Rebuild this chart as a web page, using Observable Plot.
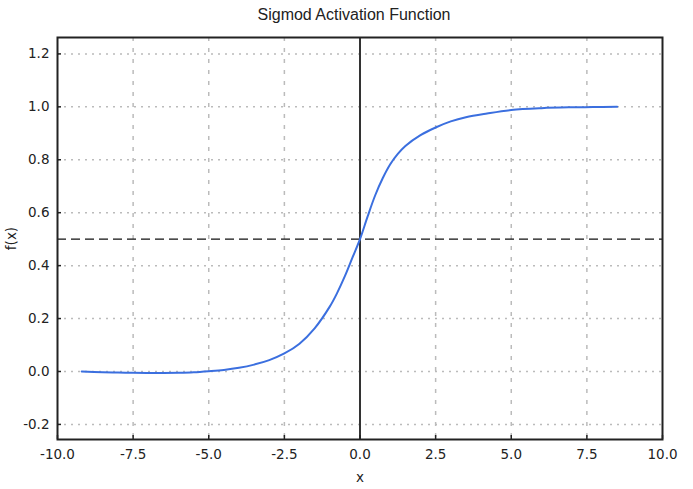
<!DOCTYPE html>
<html>
<head>
<meta charset="utf-8">
<script src="https://cdn.jsdelivr.net/npm/d3@7"></script>
<script src="https://cdn.jsdelivr.net/npm/@observablehq/plot@0.6"></script>
<style>
  html, body { margin: 0; padding: 0; background: #fff; }
  #title { height: 30px; line-height: 30px; font-family: "Liberation Sans", Arial, sans-serif; font-size: 16px; color: #222; text-align: center; padding-left: 15px; box-sizing: border-box; width: 693px; }
  #chart svg { display: block; }
</style>
</head>
<body>
<div id="title">Sigmod Activation Function</div>
<div id="chart"></div>
<script>
// Curve samples
const xs = [-9.2, -8.5, -8, -7.5, -7, -6.5, -6, -5.5, -5, -4.5, -4, -3.5, -3, -2.5, -2, -1.5, -1.0, -0.75, -0.5, -0.25, 0, 0.25, 0.5, 0.75, 1.0, 1.25, 1.5, 2.0, 2.5, 3.0, 3.5, 4.2, 5, 6, 6.9, 7.7, 8.5];
const ys = [0.0, -0.003, -0.004, -0.005, -0.006, -0.006, -0.005, -0.003, 0.001, 0.006, 0.014, 0.026, 0.043, 0.068, 0.105, 0.163, 0.245, 0.298, 0.36, 0.43, 0.5, 0.585, 0.665, 0.73, 0.783, 0.822, 0.852, 0.893, 0.922, 0.945, 0.961, 0.975, 0.988, 0.995, 0.998, 0.999, 1.0];
const xTicks = [-10, -7.5, -5, -2.5, 0, 2.5, 5, 7.5, 10];
const yTicks = [-0.2, 0, 0.2, 0.4, 0.6, 0.8, 1.0, 1.2];
const xGrid = [-7.5, -5, -2.5, 2.5, 5, 7.5];
const threshold = [0.5];
const zeroLine = [0];

const data = xs.map((x, i) => ({x, y: ys[i]}));
const fmt = d => d.toFixed(1);

const chart = Plot.plot({
  width: 693,
  height: 459,
  marginTop: 7,
  marginLeft: 57,
  marginRight: 31,
  marginBottom: 50,
  x: {domain: [-10, 10]},
  y: {domain: [-0.257, 1.262]},
  style: {fontFamily: "DejaVu Sans", fontSize: "13.5px", color: "#222", background: "#fff"},
  marks: [
    Plot.ruleX(xGrid, {stroke: "#bbb", strokeWidth: 1.5, strokeDasharray: "4,7"}),
    Plot.ruleY(yTicks, {stroke: "#bbb", strokeWidth: 1.5, strokeDasharray: "2,5"}),
    Plot.ruleY(threshold, {stroke: "#111", strokeWidth: 1.1, strokeDasharray: "9,5"}),
    Plot.ruleX(zeroLine, {stroke: "#333", strokeWidth: 2}),
    Plot.line(data, {x: "x", y: "y", stroke: "#3b6fdf", strokeWidth: 2, curve: "catmull-rom"}),
    Plot.frame({stroke: "#222", strokeWidth: 2}),
    Plot.axisX({ticks: xTicks, tickSize: 4, text: null, dy: -4, stroke: "#222", strokeWidth: 1.5, label: null}),
    Plot.axisY({ticks: yTicks, tickSize: 4, text: null, dx: 4, stroke: "#222", strokeWidth: 1.5, label: null}),
    Plot.axisX({ticks: xTicks, tickSize: 0, tickPadding: 9.5, tickFormat: fmt, fill: "#222", label: "x", labelAnchor: "center", labelArrow: "none", labelOffset: 42}),
    Plot.axisY({ticks: yTicks, tickSize: 0, tickPadding: 8, tickFormat: fmt, fill: "#222", label: "f(x)", labelAnchor: "center", labelArrow: "none", labelOffset: 51})
  ]
});
document.getElementById("chart").appendChild(chart);
</script>
</body>
</html>
